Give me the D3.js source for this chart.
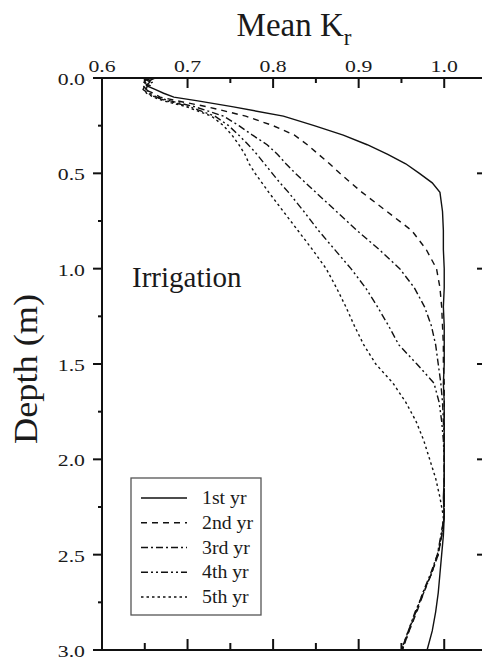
<!DOCTYPE html>
<html>
<head>
<meta charset="utf-8">
<script src="https://cdn.jsdelivr.net/npm/d3@7"></script>
<style>
  html, body { margin: 0; padding: 0; background: #fff; }
  svg { display: block; }
  text { font-family: "Liberation Serif", "Times New Roman", serif; fill: #1a1a1a; }
</style>
</head>
<body>
<svg id="chart" width="482" height="666"></svg>
<script>
// Depth profile of mean Kr under irrigation, years 1-5
const depths = [0, 0.02, 0.04, 0.06, 0.08, 0.10, 0.12, 0.15, 0.20, 0.25, 0.30, 0.35, 0.40, 0.45, 0.50, 0.55, 0.60,
  0.70, 0.80, 0.90, 1.00, 1.10, 1.20, 1.30, 1.40, 1.50, 1.60, 1.70, 1.80, 1.90, 2.00,
  2.10, 2.20, 2.30, 2.40, 2.50, 2.60, 2.70, 2.80, 2.90, 3.00];

const kr1 = [0.648, 0.656, 0.652, 0.662, 0.672, 0.684, 0.712, 0.752, 0.812, 0.848, 0.882, 0.910, 0.934, 0.955, 0.971, 0.986, 0.995,
  0.998, 0.999, 0.999, 1.000, 1.000, 0.999, 1.000, 1.000, 1.000, 0.999, 1.000, 1.000, 1.000, 1.000,
  1.000, 0.999, 1.000, 0.999, 0.997, 0.995, 0.993, 0.990, 0.986, 0.980];
const kr2 = [0.656, 0.648, 0.654, 0.650, 0.660, 0.668, 0.688, 0.722, 0.768, 0.800, 0.825, 0.840, 0.853, 0.866, 0.878, 0.891, 0.904,
  0.933, 0.962, 0.979, 0.991, 0.995, 0.997, 0.998, 0.999, 0.999, 1.000, 1.000, 1.000, 1.000, 1.000,
  1.000, 1.000, 1.000, 0.997, 0.993, 0.985, 0.976, 0.968, 0.959, 0.951];
const kr3 = [0.662, 0.652, 0.648, 0.652, 0.656, 0.664, 0.680, 0.708, 0.742, 0.760, 0.776, 0.793, 0.805, 0.815, 0.826, 0.838, 0.850,
  0.874, 0.898, 0.924, 0.948, 0.965, 0.977, 0.985, 0.990, 0.993, 0.996, 0.998, 0.999, 1.000, 1.000,
  1.000, 1.000, 1.000, 0.996, 0.992, 0.984, 0.975, 0.967, 0.958, 0.950];
const kr4 = [0.650, 0.660, 0.650, 0.648, 0.654, 0.662, 0.676, 0.702, 0.732, 0.748, 0.760, 0.771, 0.781, 0.790, 0.799, 0.808, 0.818,
  0.836, 0.853, 0.872, 0.891, 0.908, 0.922, 0.935, 0.947, 0.968, 0.988, 0.994, 0.997, 0.999, 1.000,
  1.000, 1.000, 1.000, 0.997, 0.992, 0.985, 0.976, 0.966, 0.958, 0.950];
const kr5 = [0.652, 0.648, 0.656, 0.650, 0.652, 0.660, 0.672, 0.698, 0.728, 0.742, 0.752, 0.760, 0.767, 0.772, 0.779, 0.787, 0.795,
  0.812, 0.829, 0.846, 0.862, 0.874, 0.885, 0.895, 0.906, 0.920, 0.940, 0.955, 0.967, 0.976, 0.983,
  0.990, 0.995, 0.999, 0.997, 0.993, 0.985, 0.975, 0.967, 0.959, 0.951];

const seriesNames = ["1st yr", "2nd yr", "3rd yr", "4th yr", "5th yr"];
const seriesValues = [kr1, kr2, kr3, kr4, kr5];
const dashStyles = ["", "6,5", "7,3,2,3", "7,3,2,3,2,3", "2.5,3"];

const xTickLabels = ["0.6", "0.7", "0.8", "0.9", "1.0"];
const yTickLabels = ["0.0", "0.5", "1.0", "1.5", "2.0", "2.5", "3.0"];

const svg = d3.select("#chart");
const plotL = 102, plotR = 487, plotT = 78, plotB = 650;

const x = d3.scaleLinear().domain([0.6, 1.05]).range([plotL, plotR]);
const y = d3.scaleLinear().domain([0, 3]).range([plotT, plotB]);

const line = d3.line()
  .x(d => x(d[1]))
  .y(d => y(d[0]));

// profile curves
seriesValues.forEach((vals, i) => {
  svg.append("path")
    .datum(depths.map((d, k) => [d, vals[k]]))
    .attr("d", line)
    .attr("fill", "none")
    .attr("stroke", "#111")
    .attr("stroke-width", 1.4)
    .attr("stroke-dasharray", dashStyles[i] || null);
});

// axes frame
const axisG = svg.append("g").attr("stroke", "#111").attr("stroke-width", 2);
axisG.append("line").attr("x1", plotL - 9).attr("x2", plotR).attr("y1", plotT).attr("y2", plotT);
axisG.append("line").attr("x1", plotL - 9).attr("x2", plotR).attr("y1", plotB).attr("y2", plotB);
axisG.append("line").attr("x1", plotL).attr("x2", plotL).attr("y1", plotT).attr("y2", plotB);
axisG.append("line").attr("x1", plotR).attr("x2", plotR).attr("y1", plotT).attr("y2", plotB);

// x ticks (top and bottom, inward)
const xMinor = d3.range(0.65, 1.05, 0.1);
const xMajor = xTickLabels.map(Number).filter(v => v > 0.6);
xMajor.forEach(v => {
  axisG.append("line").attr("x1", x(v)).attr("x2", x(v)).attr("y1", plotT).attr("y2", plotT + 10);
  axisG.append("line").attr("x1", x(v)).attr("x2", x(v)).attr("y1", plotB).attr("y2", plotB - 11);
});
xMinor.forEach(v => {
  axisG.append("line").attr("x1", x(v)).attr("x2", x(v)).attr("y1", plotT).attr("y2", plotT + 5);
  axisG.append("line").attr("x1", x(v)).attr("x2", x(v)).attr("y1", plotB).attr("y2", plotB - 7);
});

// y ticks (left outward, right inward)
const yMajor = yTickLabels.map(Number);
const yMinor = d3.range(0.25, 3, 0.5);
yMajor.forEach(v => {
  axisG.append("line").attr("x1", plotL - 9).attr("x2", plotL).attr("y1", y(v)).attr("y2", y(v));
  axisG.append("line").attr("x1", plotR - 10).attr("x2", plotR).attr("y1", y(v)).attr("y2", y(v));
});
yMinor.forEach(v => {
  axisG.append("line").attr("x1", plotL - 4).attr("x2", plotL).attr("y1", y(v)).attr("y2", y(v));
  axisG.append("line").attr("x1", plotR - 5).attr("x2", plotR).attr("y1", y(v)).attr("y2", y(v));
});

// tick labels
xTickLabels.forEach(t => {
  svg.append("text")
    .attr("transform", `translate(${x(+t)},72) scale(1.28,1)`)
    .attr("text-anchor", "middle")
    .attr("font-size", 17)
    .attr("fill", "#333")
    .text(t);
});
yTickLabels.forEach(t => {
  svg.append("text")
    .attr("transform", `translate(85,${y(+t) + 7}) scale(1.28,1)`)
    .attr("text-anchor", "end")
    .attr("font-size", 17)
    .attr("fill", "#333")
    .text(t);
});

// axis titles
const title = svg.append("text")
  .attr("x", 294).attr("y", 36)
  .attr("text-anchor", "middle")
  .attr("font-size", 33);
title.append("tspan").text("Mean K");
title.append("tspan").attr("dy", 9).attr("font-size", 23).text("r");

svg.append("text")
  .attr("transform", "translate(37,369) rotate(-90) scale(1.1,1)")
  .attr("text-anchor", "middle")
  .attr("font-size", 33)
  .text("Depth (m)");

svg.append("text")
  .attr("x", 132).attr("y", 287)
  .attr("font-size", 29)
  .text("Irrigation");

// legend
const legend = svg.append("g");
legend.append("rect")
  .attr("x", 131).attr("y", 478).attr("width", 130).attr("height", 137)
  .attr("fill", "#fff").attr("stroke", "#555").attr("stroke-width", 1.3);
seriesNames.forEach((name, i) => {
  const cy = 498 + i * 24.75;
  legend.append("line")
    .attr("x1", 141).attr("x2", 187).attr("y1", cy).attr("y2", cy)
    .attr("stroke", "#111").attr("stroke-width", 1.5)
    .attr("stroke-dasharray", dashStyles[i] || null);
  legend.append("text")
    .attr("transform", `translate(202,${cy + 6}) scale(1.1,1)`)
    .attr("font-size", 18)
    .text(name);
});
</script>
</body>
</html>
